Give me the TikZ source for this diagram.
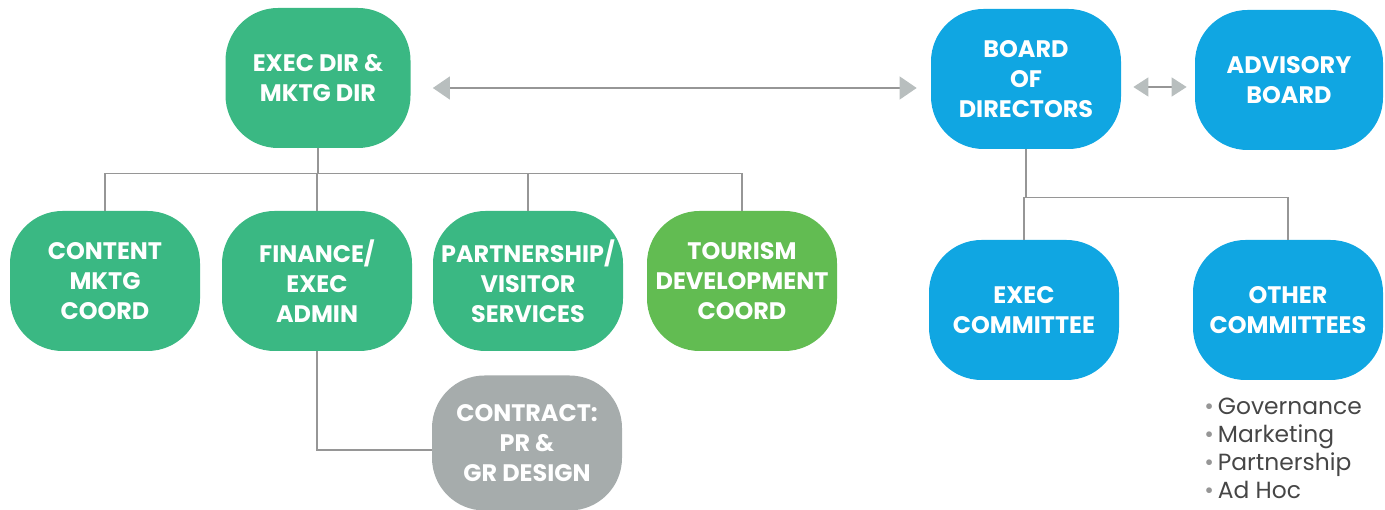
\documentclass[tikz,border=0pt]{standalone}
\usepackage{fontspec}
\setmainfont{Poppins}
\usepackage{xcolor}
\usetikzlibrary{arrows.meta,positioning,calc}
\definecolor{StaffGreen}{RGB}{58,184,131}
\definecolor{TourGreen}{RGB}{98,188,82}
\definecolor{BoardBlue}{RGB}{16,166,226}
\definecolor{ContractGray}{RGB}{166,172,172}
\definecolor{LinkGray}{RGB}{150,150,150}
\definecolor{TipGray}{RGB}{184,190,190}
\definecolor{NoteGray}{RGB}{70,70,70}

\begin{document}
\begin{tikzpicture}[
    box/.style={rectangle,rounded corners=1.05cm,minimum width=3.8cm,
      minimum height=2.8cm,inner sep=1pt,align=center,text=white,
      font=\fontsize{13.6}{17}\selectfont\bfseries},
    link/.style={LinkGray,line width=0.7pt},
    twoway/.style={link,
      {Triangle[length=0.34cm,width=0.46cm,color=TipGray]}-{Triangle[length=0.34cm,width=0.46cm,color=TipGray]}},
  ]
  \useasboundingbox (0,0) rectangle (27.7,-10.2);

  % staff side
  \node[box,fill=StaffGreen,minimum width=3.7cm] (exec) at (6.36,-1.56)
    {EXEC DIR \&\\MKTG DIR};
  \foreach \n/\x/\c/\t in {content/2.10/StaffGreen/{CONTENT\\MKTG\\COORD},
      finance/6.34/StaffGreen/{FINANCE/\\EXEC\\ADMIN},
      partnership/10.56/StaffGreen/{PARTNERSHIP/\\VISITOR\\SERVICES},
      tourism/14.84/TourGreen/{TOURISM\\DEVELOPMENT\\COORD}}{
    \node[box,fill=\c] (\n) at (\x,-5.62) {\t};
    \draw[link] (exec.south) |- ($(\n.north)+(0,0.74)$) -- (\n.north);
  }
  \node[box,fill=ContractGray,minimum height=2.7cm] (contract) at (10.54,-8.86)
    {CONTRACT:\\PR \&\\GR DESIGN};
  \draw[link] (finance.south) |- ([yshift=-0.14cm]contract.west);

  % board side
  \node[box,fill=BoardBlue] (board) at (20.52,-1.58) {BOARD\\OF\\DIRECTORS};
  \node[box,fill=BoardBlue,minimum width=3.76cm] (advisory) at (25.78,-1.6)
    {ADVISORY\\BOARD};
  \node[box,fill=BoardBlue] (execcom) at (20.48,-6.2) {EXEC\\COMMITTEE};
  \node[box,fill=BoardBlue] (othercom) at (25.76,-6.2) {OTHER\\COMMITTEES};
  \foreach \n in {execcom,othercom}
    \draw[link] (board.south) |- ($(\n.north)+(0,0.84)$) -- (\n.north);

  \node[anchor=north west,align=left,inner sep=0pt,text=NoteGray,
    font=\fontsize{13.3}{16}\selectfont] (sublist) at (24.08,-7.95)
    {{\color{LinkGray}\textbullet}\,Governance\\
     {\color{LinkGray}\textbullet}\,Marketing\\
     {\color{LinkGray}\textbullet}\,Partnership\\
     {\color{LinkGray}\textbullet}\,Ad Hoc};

  % two-way links
  \draw[twoway,shorten <=0.44cm,shorten >=0.28cm]
    ([yshift=-0.2cm]exec.east) -- ([yshift=-0.2cm]exec.east -| board.west);
  \draw[link,{Triangle[length=0.3cm,width=0.38cm,color=TipGray]}-{Triangle[length=0.3cm,width=0.38cm,color=TipGray]},
    shorten <=0.24cm,shorten >=0.16cm]
    ([yshift=-0.16cm]board.east) -- ([yshift=-0.16cm]board.east -| advisory.west);
\end{tikzpicture}
\end{document}
